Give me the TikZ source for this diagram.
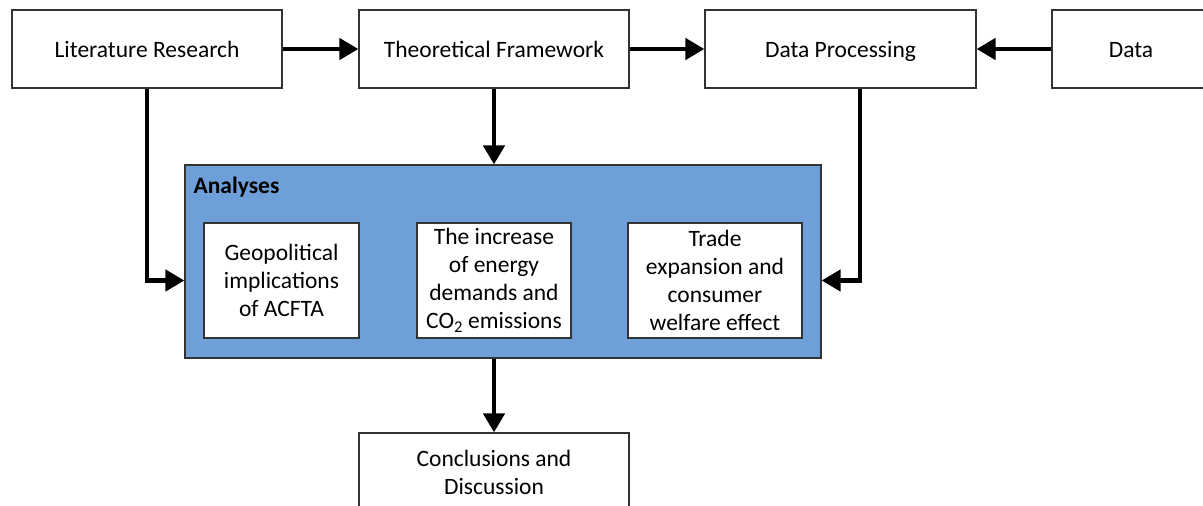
\documentclass[tikz,border=0pt]{standalone}
\usepackage{fontspec}
\setmainfont{Carlito}
\usetikzlibrary{arrows.meta,positioning}
\definecolor{anablue}{HTML}{6F9FD8}
\tikzset{
  basic/.style={
  draw=black!80,
  line width=1.2pt,
  fill=white,
  minimum width=270pt,
  minimum height=78pt,
  align=center,
  inner sep=2pt,
  font=\fontsize{23.5}{28}\selectfont,
  },
  oneline/.style={basic, text height=20pt, text depth=4pt},
  inner/.style={basic, minimum height=115pt},
  conn/.style={line width=4.5pt, -{Triangle[length=19pt,width=21pt]}},
}

\begin{document}
\begin{tikzpicture}[x=1pt,y=-1pt]
\useasboundingbox (0,0) rectangle (1203,506);

% top row
\node[oneline](lit) at (147,49){Literature Research};
\node[oneline](theo) at (494,49){Theoretical Framework};
\node[oneline,minimum width=271pt](proc) at (840.5,49){Data Processing};
\node[oneline,minimum width=158pt](data) at (1131,49){Data};

% analyses block
\node[basic,fill=anablue,minimum width=636pt,minimum height=193pt](ana) at (503,261.5){};
\node[anchor=west,inner sep=0pt,font=\fontsize{23.5}{28}\selectfont\bfseries](anatitle)
  at ([xshift=9pt,yshift=-23pt]ana.north west){Analyses};

\node[inner,minimum width=155pt](geo) at (281.5,280.5){Geopolitical\\ implications\\ of ACFTA};
\node[inner,minimum width=154pt](co2) at (494,280.5){The increase\\ of energy\\ demands and\\ CO\textsubscript{2} emissions};
\node[inner,minimum width=174pt](trade) at (715,280.5){Trade\\ expansion and\\ consumer\\ welfare effect};

% bottom
\node[basic](conc) at (494,472){Conclusions and\\ Discussion};

% connectors
\draw[conn] (lit) -- (theo);
\draw[conn] (theo) -- (proc);
\draw[conn] (data) -- (proc);
\draw[conn] (theo.south) -- (theo.south |- ana.north);
\draw[conn] (lit.south) |- (ana.west |- geo.west);
\draw[conn] ([xshift=19.5pt]proc.south) |- (ana.east |- trade.east);
\draw[conn] (ana.south -| conc.north) -- (conc.north);

\end{tikzpicture}
\end{document}
